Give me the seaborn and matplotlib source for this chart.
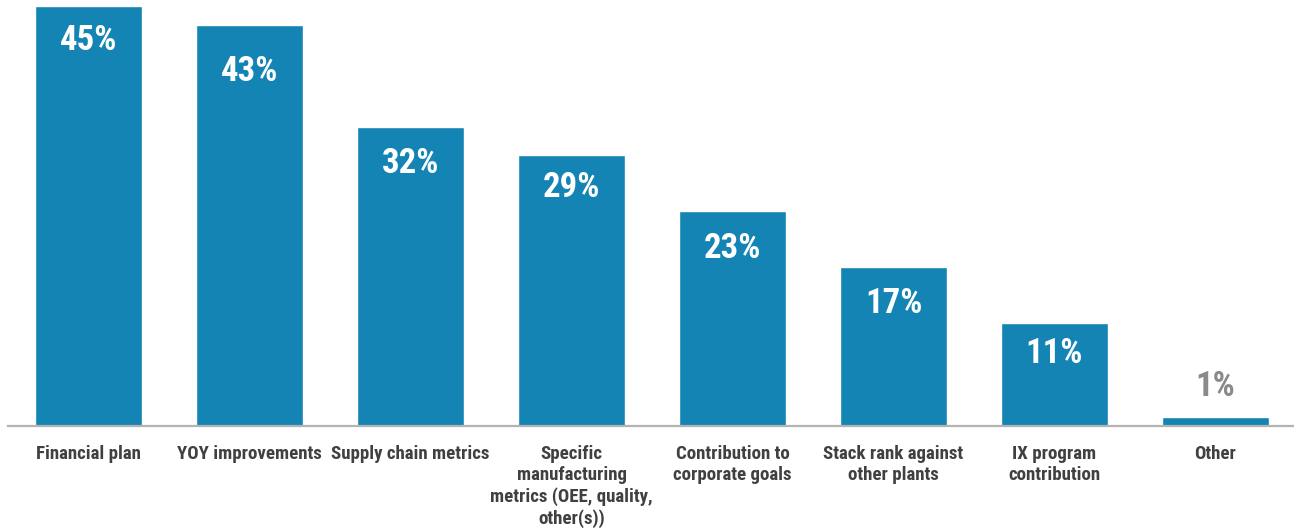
import matplotlib
matplotlib.use("Agg")
import matplotlib.pyplot as plt
import seaborn as sns
import pandas as pd

categories = ["Financial plan", "YOY improvements", "Supply chain metrics",
              "Specific\nmanufacturing\nmetrics (OEE, quality,\nother(s))",
              "Contribution to\ncorporate goals", "Stack rank against\nother plants",
              "IX program\ncontribution", "Other"]
values = [45, 43, 32, 29, 23, 17, 11, 1]
labels = ["45%", "43%", "32%", "29%", "23%", "17%", "11%", "1%"]
label_offsets_pt = [-25, -34, -26, -23, -27, -26, -22, 10]

sns.set_theme(style="white")
fam = ["Liberation Sans Narrow", "Roboto Condensed", "DejaVu Sans"]
plt.rcParams["font.family"] = fam

df = pd.DataFrame({"cat": categories, "val": values})
fig = plt.figure(figsize=(12.94, 5.31), dpi=100)
ax = fig.add_axes([8/1294, 105/531, 1288/1294, 426/531])
sns.barplot(data=df, x="cat", y="val", color="#1384b4", saturation=1, width=0.665, ax=ax)
ax.set_xlim(-0.5, 7.5)
ax.set_ylim(0, 45.65)
for s in ["top", "right", "left"]:
    ax.spines[s].set_visible(False)
ax.spines["bottom"].set_color("#b3b3b3")
ax.spines["bottom"].set_linewidth(1.6)
ax.set_yticks([])
ax.set_xlabel("")
ax.set_ylabel("")
ax.tick_params(axis="x", length=0, pad=14, labelsize=13.6, labelcolor="#404040")
for t in ax.get_xticklabels():
    t.set_fontweight("bold")
    t.set_linespacing(1.2)
    t.set_verticalalignment("top")

for i, (v, lab, off) in enumerate(zip(values, labels, label_offsets_pt)):
    if v > 5:
        ax.annotate(lab, (i, v), xytext=(0, off), textcoords="offset points",
                    ha="center", va="center", color="white", fontsize=25, fontweight="bold")
    else:
        ax.annotate(lab, (i, v), xytext=(0, off), textcoords="offset points",
                    ha="center", va="bottom", color="#8a8a8a", fontsize=25, fontweight="bold")

fig.savefig("out.png", dpi=100)
